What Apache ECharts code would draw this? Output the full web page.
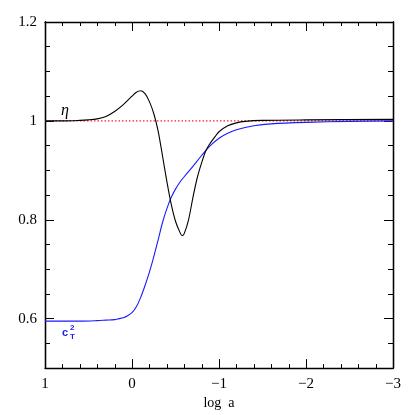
<!DOCTYPE html>
<html>
<head>
<meta charset="utf-8">
<script src="https://cdn.jsdelivr.net/npm/echarts@6/dist/echarts.min.js"></script>
<style>
    html, body { margin: 0; padding: 0; background: #fff; }
    #chart { width: 415px; height: 415px; }
</style>
</head>
<body>
<div id="chart"></div>
<script>
    // log a 取值 (从 1 到 -3)
    var etaX = [1.0, 0.8, 0.6, 0.5, 0.4, 0.3, 0.2, 0.1, 0.0, -0.05, -0.1, -0.15, -0.2, -0.25, -0.3, -0.35, -0.4, -0.45,
        -0.5, -0.55, -0.575, -0.6, -0.65, -0.7, -0.75, -0.8, -0.85, -0.9, -0.95, -1.0, -1.1, -1.2, -1.3, -1.5, -2.0, -3.0];
    var etaY = [1.000, 1.000, 1.001, 1.002, 1.004, 1.009, 1.019, 1.033, 1.050, 1.058, 1.061, 1.055, 1.039, 1.015, 0.980,
        0.930, 0.878, 0.832, 0.797, 0.775, 0.768, 0.772, 0.800, 0.845, 0.885, 0.915, 0.940, 0.955, 0.967, 0.978, 0.990,
        0.996, 0.999, 1.001, 1.002, 1.003];

    var cT2X = [1.0, 0.6, 0.4, 0.3, 0.2, 0.15, 0.1, 0.05, 0.0, -0.05, -0.1, -0.15, -0.2, -0.25, -0.3, -0.35, -0.4, -0.45,
        -0.5, -0.55, -0.6, -0.7, -0.8, -0.9, -1.0, -1.1, -1.2, -1.4, -1.6, -2.0, -2.5, -3.0];
    var cT2Y = [0.595, 0.595, 0.596, 0.597, 0.598, 0.600, 0.602, 0.606, 0.612, 0.624, 0.643, 0.667, 0.694, 0.725, 0.759,
        0.794, 0.822, 0.845, 0.862, 0.876, 0.887, 0.908, 0.930, 0.950, 0.965, 0.975, 0.982, 0.990, 0.994, 0.997, 0.999, 1.000];

    var refX = [1, -3];
    var refY = [1, 1];

    var yLabels = [0.6, 0.8, 1, 1.2];
    // x 轴刻度位置 (整数为主刻度)
    var xTickValues = [1, 0.8, 0.6, 0.4, 0.2, 0, -0.2, -0.4, -0.6, -0.8, -1, -1.2, -1.4, -1.6, -1.8,
        -2, -2.2, -2.4, -2.6, -2.8, -3];

    var yMin = 0.5;
    var yMax = 1.2;

    function pairs(xs, ys) {
        var out = [];
        for (var i = 0; i < xs.length; i++) {
            out.push([xs[i], ys[i]]);
        }
        return out;
    }

    var serif = 'Liberation Serif';
    var chart = echarts.init(document.getElementById('chart'));

    function xAxisDef(pos, showLabel) {
        var axis = {
            type: 'value',
            position: pos,
            min: -3,
            max: 1,
            interval: 1,
            inverse: true,
            axisLine: { show: true, onZero: false, lineStyle: { color: '#000', width: 1.3 } },
            axisTick: { show: false },
            axisLabel: {
                show: true,
                margin: 8,
                fontFamily: serif,
                fontSize: 15,
                color: '#000',
                formatter: function (v) { return showLabel ? String(v).replace('-', '\u2212') : ''; }
            },
            splitLine: { show: false }
        };
        if (showLabel) {
            axis.name = 'log  a';
            axis.nameLocation = 'middle';
            axis.nameGap = 27;
            axis.nameTextStyle = { fontFamily: serif, fontSize: 14, color: '#000' };
        }
        return axis;
    }

    function yAxisDef(pos, minor, showLabel) {
        return {
            type: 'value',
            position: pos,
            min: yMin,
            max: yMax,
            interval: 0.05,
            axisLine: { show: true, onZero: false, lineStyle: { color: '#000', width: 1.3 } },
            axisTick: minor
                ? { show: true, inside: true, length: 5, lineStyle: { color: '#000' } }
                : { show: true, inside: true, length: 9, customValues: yLabels, lineStyle: { color: '#000' } },
            axisLabel: {
                show: true,
                customValues: yLabels,
                margin: 8,
                fontFamily: serif,
                fontSize: 15,
                color: '#000',
                formatter: function (v) { return showLabel ? String(Math.round(v * 10) / 10) : ''; }
            },
            splitLine: { show: false }
        };
    }

    // x 轴上下两边的刻度线, 位置由坐标系换算
    function renderXTicks(params, api) {
        var v = api.value(0);
        var len = Math.abs(v - Math.round(v)) < 1e-6 ? 9 : 4;
        var b = api.coord([v, yMin]);
        var t = api.coord([v, yMax]);
        var x = Math.round(b[0]) + 0.5;
        return {
            type: 'group',
            children: [
                { type: 'line', shape: { x1: x, y1: b[1], x2: x, y2: b[1] - len }, style: { stroke: '#000', lineWidth: 1 } },
                { type: 'line', shape: { x1: x, y1: t[1], x2: x, y2: t[1] + len }, style: { stroke: '#000', lineWidth: 1 } }
            ]
        };
    }

    var option = {
        animation: false,
        backgroundColor: '#fff',
        grid: { left: 45, right: 22, top: 22, bottom: 45 },
        xAxis: [xAxisDef('bottom', true), xAxisDef('top', false)],
        yAxis: [
            yAxisDef('left', true, true),
            yAxisDef('left', false, false),
            yAxisDef('right', true, false),
            yAxisDef('right', false, false)
        ],
        series: [
            {
                name: 'xticks',
                type: 'custom',
                renderItem: renderXTicks,
                data: xTickValues.map(function (v) { return [v, yMin]; }),
                encode: { x: 0, y: 1 },
                clip: false,
                silent: true,
                z: 5
            },
            {
                name: 'ref',
                type: 'line',
                data: pairs(refX, refY),
                showSymbol: false,
                lineStyle: { color: '#ff2020', width: 1.2, type: [1.5, 2] },
                z: 1
            },
            {
                name: 'cT2',
                type: 'line',
                data: pairs(cT2X, cT2Y),
                smooth: 0.3,
                showSymbol: false,
                lineStyle: { color: '#1a1aff', width: 1.1 },
                z: 2
            },
            {
                name: 'eta',
                type: 'line',
                data: pairs(etaX, etaY),
                smooth: 0.3,
                showSymbol: false,
                lineStyle: { color: '#000', width: 1.1 },
                z: 3
            }
        ],
        graphic: [
            { type: 'text', left: 61, top: 103, style: { text: '\u03b7', font: 'italic 16px "Liberation Serif"', fill: '#000' } },
            { type: 'text', left: 62, top: 327, style: { text: 'c', font: 'bold 11px "Liberation Sans"', fill: '#1a1aff' } },
            { type: 'text', left: 70, top: 324, style: { text: '2', font: 'bold 8px "Liberation Sans"', fill: '#1a1aff' } },
            { type: 'text', left: 70, top: 333, style: { text: 'T', font: 'bold 8px "Liberation Sans"', fill: '#1a1aff' } }
        ]
    };

    chart.setOption(option);
</script>
</body>
</html>
